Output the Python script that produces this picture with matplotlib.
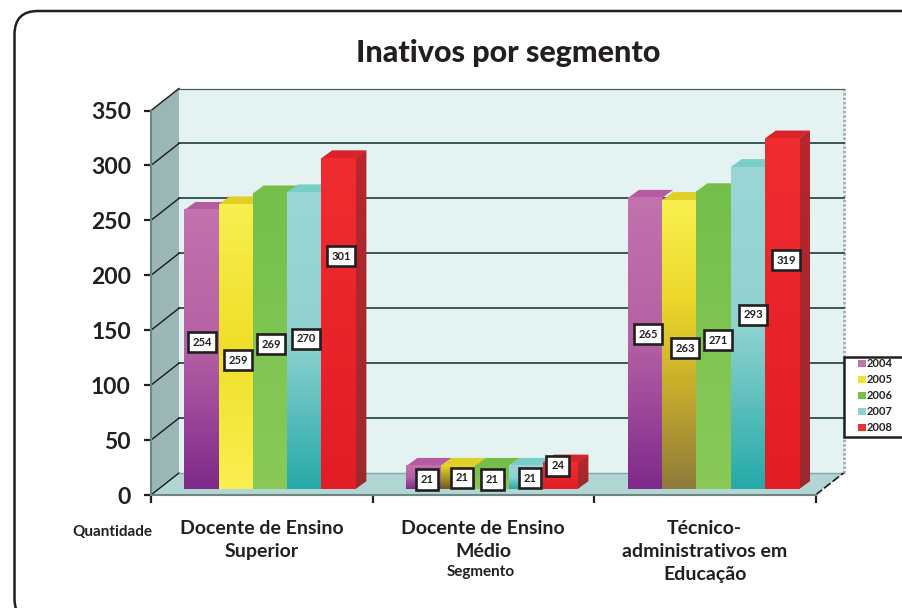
import numpy as np
import matplotlib
matplotlib.use('Agg')
import matplotlib.pyplot as plt
from matplotlib.colors import LinearSegmentedColormap
from matplotlib.patches import FancyBboxPatch, Polygon, Patch, Rectangle

# dados
anos = ['2004', '2005', '2006', '2007', '2008']
segmentos = ['Docente de Ensino\nSuperior', 'Docente de Ensino\nMédio',
             'Técnico-\nadministrativos em\nEducação']
valores_2004 = [254, 21, 265]
valores_2005 = [259, 21, 263]
valores_2006 = [269, 21, 271]
valores_2007 = [270, 21, 293]
valores_2008 = [301, 24, 319]
series = [valores_2004, valores_2005, valores_2006, valores_2007, valores_2008]
yticks = [0, 50, 100, 150, 200, 250, 300, 350]

# cores: gradiente da frente, face de cima, lado
cor_frente = [('#c272ad', '#b460a5', '#7f2a8b'), ('#f8ee4e', '#f3e32e'), ('#74c04c', '#8ac958'),
              ('#9ad6d6', '#8fd2d0', '#25aaa9'), ('#ef2d30', '#e31c26')]
cor_topo = ['#b45ba2', '#e0cf25', '#76bd4b', '#78cfca', '#da2229']
cor_lado = ('#b9252d', '#9a2a30')
cor_legenda = ['#c272ad', '#f3e32e', '#74c04c', '#8fd2d2', '#ef2d30']

W, H = 902, 608
fig = plt.figure(figsize=(W / 100, H / 100), dpi=100)
plt.rcParams['font.family'] = ['Lato', 'DejaVu Sans']

# plano frontal do grafico em pixels
x0, x1, y0, y1 = 151, 815.5, 495, 110.5
ax = fig.add_axes([x0 / W, 1 - y0 / H, (x1 - x0) / W, (y0 - y1) / H])
ax.set_xlim(0, 3)
ax.set_ylim(0, 350)
ax.patch.set_visible(False)

px_x = 3 / (x1 - x0)
px_y = 350 / (y0 - y1)
dx, dy = 28 * px_x, 22 * px_y  # profundidade das paredes
bx, by = 11 * px_x, 8 * px_y   # profundidade das barras
larg = 34.2 * px_x
ini = np.array([184.4, 406.4, 628]) - x0
ini = ini * px_x
base = 6 * px_y


def gradiente(x, y, w, h, cores, z, clip=None, n=64):
    cmap = LinearSegmentedColormap.from_list('g', cores)
    g = np.linspace(0, 1, n).reshape(-1, 1)
    im = ax.imshow(g, extent=(x, x + w, y, y + h), origin='upper', cmap=cmap,
                   aspect='auto', zorder=z, clip_on=clip is not None)
    if clip is not None:
        im.set_clip_path(clip)


# moldura
fig.add_artist(FancyBboxPatch((14.5 / W, -14 / H), 1.2, 1 + 14 / H - 11 / H,
                              boxstyle='round,pad=0,rounding_size=0.026',
                              transform=fig.transFigure, fc='white', ec='#231f20',
                              lw=1.8, zorder=-5, mutation_aspect=W / H))

# paredes e chao
ax.add_patch(Polygon([(dx, dy), (3 + dx, dy), (3 + dx, 350 + dy), (dx, 350 + dy)],
                     fc='#e4f2f2', ec='none', zorder=1, clip_on=False))
ax.add_patch(Polygon([(0, 0), (dx, dy), (dx, 350 + dy), (0, 350)],
                     fc='#9bb7b5', ec='none', zorder=1, clip_on=False))
ax.add_patch(Polygon([(0, 0), (3, 0), (3 + dx, dy), (dx, dy)],
                     fc='#b2d6d3', ec='none', zorder=1, clip_on=False))
ax.plot([3 + dx, 3 + dx], [dy, 350 + dy], color='#a0b0af', lw=2, ls=(0, (1, 0.6)), zorder=2, clip_on=False)
for v in yticks:
    if v == 350:
        ax.plot([dx, 3 + dx], [v + dy, v + dy], color='#4a5c5b', lw=0.9, zorder=2, clip_on=False)
    elif v > 0:
        ax.plot([dx, 3 + dx], [v + dy, v + dy], color='#2e4a4a', lw=1.3, zorder=2, clip_on=False)
    ax.plot([0, dx], [v, v + dy], color='#1a1a1a', lw=1.0, zorder=2, clip_on=False)
ax.plot([dx, 3 + dx], [dy, dy], color='#8aa5a3', lw=1, zorder=2, clip_on=False)
ax.plot([3, 3 + dx], [0, dy], color='#1a1a1a', lw=1.2, ls=(0, (5, 1.5)), zorder=2, clip_on=False)

# barras
for i, vals in enumerate(series):
    for j, v in enumerate(vals):
        x = ini[j] + i * larg
        ax.bar(x, v, larg, bottom=base, align='edge', color=cor_frente[i][0], zorder=5 + i * 0.1, clip_on=False)
        cores = cor_frente[i]
        if i == 1 and j == 2:
            cores = ('#f8ee4e', '#ecd92a', '#c4aa2c', '#8f7b3a')
        if i == 1 and j == 0:
            cores = ('#f8ee4e', '#efdf28', '#f9ef50')
        if i == 1 and j == 1:
            cores = ('#e8d62a', '#6d5c1c')
        gradiente(x, base, larg, v, cores, 5 + i * 0.1 + 0.01)
        ax.add_patch(Polygon([(x, base + v), (x + larg, base + v), (x + larg + bx, base + v + by), (x + bx, base + v + by)],
                             fc=cor_topo[i], ec='none', zorder=4 + i * 0.1, clip_on=False))
        if i == 4:
            lado = Polygon([(x + larg, base), (x + larg + bx, base + by), (x + larg + bx, base + v + by), (x + larg, base + v)],
                           fc=cor_lado[0], ec='none', zorder=4.8, clip_on=False)
            ax.add_patch(lado)
            gradiente(x + larg, base, bx, v + by, cor_lado, 4.9, clip=lado)

# a imshow mexe nos limites
ax.set_xlim(0, 3)
ax.set_ylim(0, 350)

# rotulos
rot_x = [[202, 427, 648], [238, 462, 685], [271, 492.5, 718], [306, 530, 753], [341, 557.6, 786]]
rot_y = [[342, 479.5, 334], [360, 477.7, 348], [344, 479.5, 340], [339, 478.3, 315], [256, 465.7, 260]]
for i, vals in enumerate(series):
    for j, v in enumerate(vals):
        ax.text((rot_x[i][j] - x0) * px_x, (y0 - rot_y[i][j]) * px_y, str(v), fontsize=8, fontweight='bold',
                color='#231f20', ha='center', va='center', zorder=8,
                bbox=dict(boxstyle='square,pad=0.42', fc='white', ec='#231f20', lw=1.9))

# eixos
ax.set_yticks(yticks)
ax.set_yticklabels([str(v) for v in yticks], fontsize=16.5, fontweight='bold', color='#231f20')
ax.set_xticks([0, 1, 2, 3])
ax.set_xticklabels([])
ax.set_xticks([0.5, 1.5, 2.5], minor=True)
ax.set_xticklabels(segmentos, minor=True, fontsize=14, fontweight='bold', color='#231f20', linespacing=1.43)
ax.tick_params(axis='y', length=5, width=1.6, color='#231f20', pad=9.5)
ax.tick_params(axis='x', which='major', length=5.5, width=1.6, color='#231f20')
ax.tick_params(axis='x', which='minor', length=0, pad=18)
ax.spines['top'].set_visible(False)
ax.spines['right'].set_visible(False)
for s in ('left', 'bottom'):
    ax.spines[s].set_color('#6f8584')
    ax.spines[s].set_linewidth(1.5)
    ax.spines[s].set_zorder(3)

fig.text(508 / W, 1 - 53 / H, 'Inativos por segmento', fontsize=22, fontweight='black',
         color='#231f20', ha='center', va='center')
fig.text(112 / W, 1 - 532 / H, 'Quantidade', fontsize=11, fontweight='bold', color='#231f20', ha='center', va='center')
fig.text(481 / W, 1 - 572 / H, 'Segmento', fontsize=11, fontweight='bold', color='#231f20', ha='center', va='center')

# legenda: a caixa passa da borda direita da imagem
fig.add_artist(Rectangle((843.5 / W, 1 - 437 / H), 70 / W, 80 / H, transform=fig.transFigure,
                         fc='white', ec='#231f20', lw=1.8, zorder=9))
handles = [Patch(fc=c, ec='none') for c in cor_legenda]
leg = fig.legend(handles, anos, loc='upper left', bbox_to_anchor=(856 / W, 1 - 356 / H),
                 bbox_transform=fig.transFigure, frameon=False, borderpad=0.2, labelspacing=0.45,
                 handlelength=0.72, handleheight=0.62, handletextpad=0.05, borderaxespad=0,
                 prop=dict(size=8, weight='bold'))
leg.set_zorder(10)
for t in leg.get_texts():
    t.set_color('#231f20')

fig.savefig('out.png', dpi=100)
